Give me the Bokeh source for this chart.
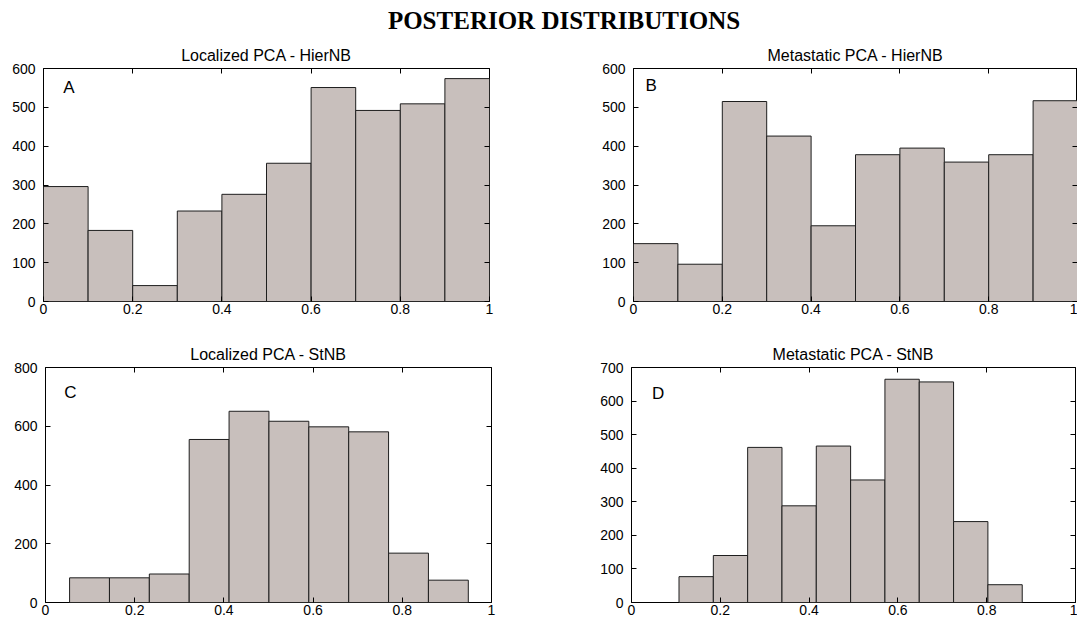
import numpy as np
from bokeh.plotting import figure
from bokeh.models import Range1d, FixedTicker, LinearAxis, Label, CustomJSTickFormatter
from bokeh.layouts import column, row
from bokeh.embed import file_html
from bokeh.resources import INLINE

# ---------------- data ----------------
main_title = "POSTERIOR DISTRIBUTIONS"
panel_titles = ["Localized PCA - HierNB", "Metastatic PCA - HierNB",
                "Localized PCA - StNB", "Metastatic PCA - StNB"]
panel_letters = ["A", "B", "C", "D"]

counts_a = [296, 183, 41, 233, 276, 356, 551, 492, 509, 574]
counts_b = [149, 96, 515, 426, 195, 378, 395, 359, 378, 517]
counts_c = [84, 84, 97, 555, 651, 617, 598, 581, 168, 76]
counts_d = [77, 140, 462, 288, 466, 365, 665, 657, 241, 53]

# range of posterior values spanned by the 10 equal-width bins
bins_a = (0.0, 1.0)
bins_b = (0.0, 1.0)
bins_c = (0.054, 0.948)
bins_d = (0.107, 0.880)

x_ticks = [0, 0.2, 0.4, 0.6, 0.8, 1]
x_tick_labels = ["0", "0.2", "0.4", "0.6", "0.8", "1"]
y_ticks_a = [0, 100, 200, 300, 400, 500, 600]
y_ticks_b = [0, 100, 200, 300, 400, 500, 600]
y_ticks_c = [0, 200, 400, 600, 800]
y_ticks_d = [0, 100, 200, 300, 400, 500, 600, 700]

# ---------------- style ----------------
BAR = "#c8bfbc"
EDGE = "#1e1e1e"
SANS = "Liberation Sans"
TICK_SIZE = "14px"


def style_axis(ax, hide_labels=False):
    ax.axis_line_color = None
    ax.major_tick_in = 5
    ax.major_tick_out = 0
    ax.minor_tick_line_color = None
    ax.major_tick_line_color = "black"
    ax.major_label_text_font = SANS
    ax.major_label_text_font_size = TICK_SIZE
    ax.major_label_text_color = "black"
    if hide_labels:
        ax.formatter = CustomJSTickFormatter(code="return ''")
        ax.major_label_text_font_size = "0px"
        ax.major_label_standoff = 0


def make_panel(counts, bins, y_ticks, title, letter, letter_xy,
               width, height, bl, br, bt, bb):
    ymax = y_ticks[-1]
    p = figure(width=width, height=height, x_range=Range1d(0, 1),
               y_range=Range1d(0, ymax), output_backend="svg",
               toolbar_location=None, min_border_left=bl, min_border_right=br,
               min_border_top=bt, min_border_bottom=bb, title=title)
    edges = np.linspace(bins[0], bins[1], len(counts) + 1)
    p.quad(left=edges[:-1], right=edges[1:], bottom=0, top=counts,
           fill_color=BAR, line_color=EDGE, line_width=1)
    p.grid.visible = False
    p.outline_line_color = "black"
    p.outline_line_width = 1
    p.title.align = "center"
    p.title.text_font = SANS
    p.title.text_font_size = "16px"
    p.title.text_font_style = "normal"
    p.title.text_color = "black"
    p.title.standoff = 10

    p.xaxis.ticker = FixedTicker(ticks=x_ticks)
    p.xaxis.major_label_overrides = dict(zip(x_ticks, x_tick_labels))
    p.yaxis.ticker = FixedTicker(ticks=y_ticks)
    style_axis(p.xaxis[0])
    style_axis(p.yaxis[0])
    p.xaxis.major_label_standoff = 2
    p.yaxis.major_label_standoff = 8

    top = LinearAxis(ticker=FixedTicker(ticks=x_ticks))
    style_axis(top, hide_labels=True)
    p.add_layout(top, "above")
    right = LinearAxis(ticker=FixedTicker(ticks=y_ticks))
    style_axis(right, hide_labels=True)
    p.add_layout(right, "right")

    p.add_layout(Label(x=letter_xy[0], y=letter_xy[1], text=letter,
                       text_align="center", text_baseline="middle",
                       text_font=SANS, text_font_size="17px",
                       text_color="black"))
    return p


letter_a = (0.057, 551)
letter_b = (0.04, 557)
letter_c = (0.056, 715)
letter_d = (0.06, 624)

pa = make_panel(counts_a, bins_a, y_ticks_a, panel_titles[0], panel_letters[0], letter_a,
                560, 299, 43, 71, 34, 28)
pb = make_panel(counts_b, bins_b, y_ticks_b, panel_titles[1], panel_letters[1], letter_b,
                517, 299, 73, 0, 30, 32)
pc = make_panel(counts_c, bins_c, y_ticks_c, panel_titles[2], panel_letters[2], letter_c,
                560, 287, 45, 69, 33, 18)
pd = make_panel(counts_d, bins_d, y_ticks_d, panel_titles[3], panel_letters[3], letter_d,
                517, 287, 71, 2, 34, 18)

# main title strip
pt = figure(width=1077, height=34, x_range=Range1d(0, 1), y_range=Range1d(0, 1),
            output_backend="svg", toolbar_location=None, min_border=0,
            min_border_left=50)
pt.axis.visible = False
pt.grid.visible = False
pt.outline_line_color = None
pt.add_layout(Label(x=0.5, y=0.412, text=main_title, text_align="center",
                    text_baseline="middle", text_font="Liberation Serif",
                    text_font_style="bold", text_font_size="25px",
                    text_color="black"))

layout = column(pt, row(pa, pb), row(pc, pd))
open("out.html", "w").write(file_html(layout, INLINE))
